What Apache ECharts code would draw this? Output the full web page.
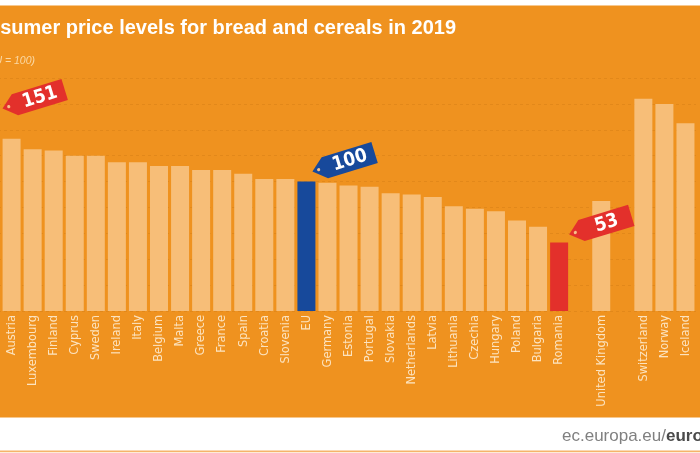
<!DOCTYPE html>
<html><head><meta charset="utf-8">
<script src="https://cdn.jsdelivr.net/npm/echarts@6/dist/echarts.min.js"></script>
<style>html,body{margin:0;padding:0;background:#fff;overflow:hidden}#c{width:700px;height:453px}</style>
</head><body><div id="c"></div>
<script>
// ---- data ----
const categories = ['Denmark','Austria','Luxembourg','Finland','Cyprus','Sweden','Ireland','Italy','Belgium','Malta','Greece','France','Spain','Croatia','Slovenia','EU','Germany','Estonia','Portugal','Slovakia','Netherlands','Latvia','Lithuania','Czechia','Hungary','Poland','Bulgaria','Romania','','United Kingdom',' ','Switzerland','Norway','Iceland'];
const values = [151,133,125,124,120,120,115,115,112,112,109,109,106,102,102,100,99,97,96,91,90,88,81,79,77,70,65,53,null,85,null,164,160,145];
const yTicks = [0,20,40,60,80,100,120,140,160,180];
const tagged = ['Denmark','EU','Romania'];
const titleText = 'Consumer price levels for bread and cereals in 2019';
const subtitleText = '(EU = 100)';
const sourceText = 'ec.europa.eu/';
const sourceBold = 'eurostat';

// ---- styles ----
const ORANGE = '#EF921F', BAR = '#F7BE78', BLUE = '#17499B', RED = '#E3302B', LABEL = '#FCE3BF';
const COND = '"DejaVu Sans Condensed","Liberation Sans Narrow",sans-serif';
const SANS = '"Liberation Sans",Arial,sans-serif';
const colorOf = c => c === 'EU' ? BLUE : (c === 'Romania' ? RED : BAR);

const chart = echarts.init(document.getElementById('c'), null, {renderer:'canvas'});
chart.setOption({
  backgroundColor: '#fff',
  animation: false,
  grid: {left: -20, right: 4, top: 78, bottom: 142, containLabel: false, outerBoundsMode: 'none'},
  xAxis: {
    type: 'category', data: categories,
    axisTick: {show: false}, axisLine: {show: false},
    axisLabel: {interval: 0, rotate: 90, margin: 4, color: LABEL, fontFamily: COND, fontSize: 12.7}
  },
  yAxis: {
    type: 'value', min: yTicks[0], max: yTicks[yTicks.length-1], interval: yTicks[1]-yTicks[0],
    axisLabel: {show: false}, axisLine: {show: false}, axisTick: {show: false},
    splitLine: {lineStyle: {color: '#D98217', type: [3,3], width: 1, opacity: 0.6}}
  },
  series: [{
    type: 'bar', barWidth: 18, z: 2,
    data: values.map((v, i) => ({value: v, itemStyle: {color: colorOf(categories[i])}}))
  }]
});

const tagOffsets = {Denmark: [3, -7], EU: [-3, -10], Romania: [1, -8]};
const rot = 17 * Math.PI / 180;
const graphics = [
  {type: 'rect', z: -10, silent: true, shape: {x: 0, y: 5.5, width: 700, height: 412}, style: {fill: ORANGE}},
  {type: 'rect', z: -10, silent: true, shape: {x: 0, y: 450.5, width: 700, height: 1.8}, style: {fill: '#F5B46A'}},
  {type: 'text', z: 50, style: {text: titleText, x: 456, y: 28, align: 'right', verticalAlign: 'middle', fill: '#fff', font: 'bold 20px ' + SANS}},
  {type: 'text', z: 50, style: {text: subtitleText, x: 35, y: 61, align: 'right', verticalAlign: 'middle', fill: '#FAD9A6', font: 'italic 10.5px ' + SANS}},
  {type: 'text', z: 50, style: {
    text: '{a|' + sourceText + '}{b|' + sourceBold + '}', x: 562, y: 436.5, align: 'left', verticalAlign: 'middle',
    rich: {a: {fill: '#808080', font: '17px ' + SANS}, b: {fill: '#4A4A4A', font: 'bold 17px ' + SANS}}
  }}
];
tagged.forEach(cat => {
  const idx = categories.indexOf(cat);
  const v = values[idx];
  const p = chart.convertToPixel({seriesIndex: 0}, [idx, v]);
  const off = tagOffsets[cat];
  const col = cat === 'EU' ? BLUE : RED;
  graphics.push({
    type: 'group', z: 60, x: p[0] + 9 + off[0], y: p[1] + off[1], rotation: rot,
    children: [
      {type: 'polygon', z: 60, shape: {points: [[0,0],[13,-11],[65,-11],[65,11],[13,11]]}, style: {fill: col}},
      {type: 'circle', z: 61, shape: {cx: 6.5, cy: 0, r: 1.6}, style: {fill: '#F6C28A'}},
      {type: 'text', z: 62, style: {text: String(v), x: 39, y: 0.5, align: 'center', verticalAlign: 'middle', fill: '#fff', font: 'bold 19px ' + COND}}
    ]
  });
});
chart.setOption({graphic: graphics});
</script></body></html>
